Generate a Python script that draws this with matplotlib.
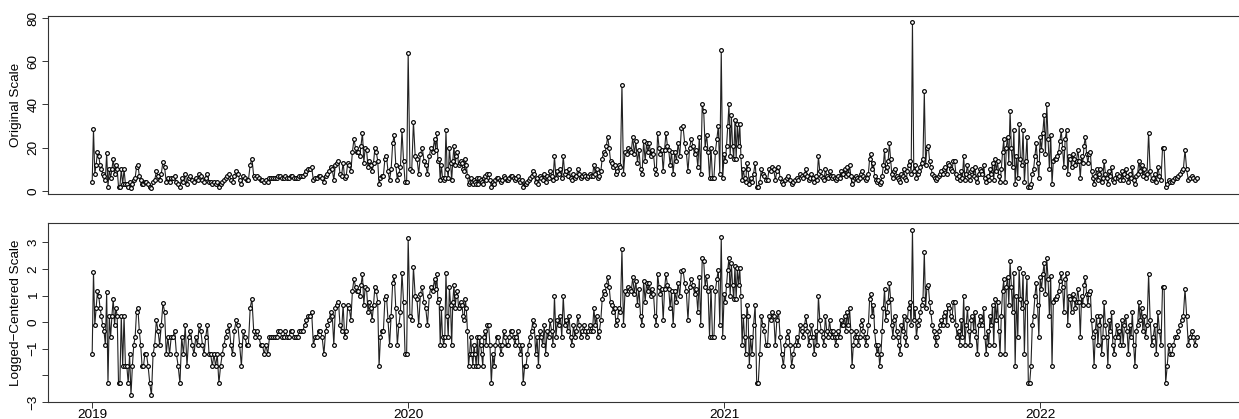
#import packages
import numpy as np
import matplotlib
matplotlib.use("Agg")
import matplotlib.pyplot as plt

#monthly readings (one list per month)
vals_2019 = [
    [4, 28.5, 8, 12, 18, 16, 12, 10, 8, 7, 5, 17.5, 2, 10, 6, 10, 15, 8, 12, 10],
    [2, 2, 10, 3, 10, 3, 3, 2, 4, 1.5, 3, 5, 6, 11, 12, 7, 5, 3, 3],
    [4, 4, 3, 2, 1.5, 4, 5, 9, 7, 5, 8, 13.5, 11, 4, 6, 4],
    [6, 6, 7, 4, 3, 2, 6, 4, 8, 3, 6, 7, 5, 4, 6],
    [5, 8, 7, 5, 4, 6, 8, 4, 4, 3, 4, 3, 4, 2, 3, 4],
    [5, 6, 7, 8, 5, 4, 7, 9, 8, 5, 3, 7, 6, 5, 5],
    [12, 15, 7, 6, 7, 6, 5, 5, 4, 5, 4, 6, 6, 6, 6],
    [6, 7, 7, 6, 6, 7, 6, 6, 7, 7, 6, 6, 6, 7, 7],
    [7, 8, 9, 10, 10, 11, 5, 6, 6, 7, 7, 6, 4, 7, 8],
    [9, 11, 10, 5, 12, 13, 14, 8, 7, 13, 6, 7, 13, 12, 9, 18, 24],
    [20, 18, 18, 16, 21, 27, 13, 20, 19, 11, 14, 12, 9, 13, 20, 18, 14, 3, 6],
    [7, 7, 15, 16, 9, 5, 10, 22, 26, 12, 5, 8, 11, 28, 14, 4, 4],
]
vals_2020 = [
    [64, 10, 9, 32, 16, 15, 8, 17, 20, 14, 12, 8, 16, 20, 18],
    [24, 19, 27, 14, 15, 5, 12, 6, 5, 6, 28, 10, 6, 20, 13, 5, 14, 21, 12, 16, 18, 12, 13],
    [14, 13, 10, 9, 15, 12, 7, 3, 4, 6, 4, 3, 5, 4, 3, 6, 3, 6, 5, 4, 3, 6, 7, 5],
    [8, 8, 5, 2, 4, 3, 5, 6, 6, 5, 4, 5, 7, 6, 5, 5, 6, 7, 7],
    [6, 5, 6, 7, 5, 4, 5, 2, 3, 3, 4, 5, 6, 7, 9, 8, 4, 6, 3],
    [7, 6, 5, 8, 4, 7, 6, 9, 7, 5, 16, 6, 9, 8, 10, 6, 16, 8],
    [9, 7, 10, 6, 5, 8, 6, 7, 10, 8, 6, 7, 8, 7, 6, 7, 8, 7],
    [7, 12, 8, 10, 6, 7, 9, 15, 18, 17, 21, 25, 20, 14, 13, 11, 12, 8, 9],
    [12, 11, 49, 8, 18, 17, 20, 19, 18, 25, 17, 23, 13, 19, 10, 8, 23],
    [14, 22, 18, 22, 16, 19, 17, 10, 8, 27, 20, 17, 19, 9, 19, 27, 21, 19, 12],
    [18, 8, 18, 14, 22, 16, 29, 30, 22, 18, 9, 20, 24, 21, 17, 19],
    [11, 25, 8, 40, 37, 20, 26, 18, 6, 20, 6, 6, 18, 24, 30, 8, 65, 6],
]
vals_2021 = [
    [17, 14, 21, 30, 40, 16, 35, 21, 15, 33, 15, 31, 21, 31, 16, 5, 10, 6, 4, 13, 10, 3],
    [6, 4, 8, 13, 2, 2, 4, 10, 8, 7, 5, 5, 10, 9, 11, 10, 5],
    [9, 11, 6, 4, 3, 5, 6, 7, 5, 3, 4, 5, 6, 5, 8, 7],
    [6, 8, 10, 7, 5, 6, 8, 6, 4, 7, 5, 16, 9, 7, 6, 5, 10, 7, 6],
    [9, 7, 6, 7, 6, 5, 6, 7, 6, 9, 8, 8, 10, 7, 11, 8, 12, 7, 3, 5, 6],
    [7, 6, 5, 6, 8, 9, 7, 6, 5, 6, 8, 15, 17, 10, 13, 7, 5, 4, 5, 3, 4],
    [7, 12, 19, 9, 11, 14, 22, 15, 8, 6, 9, 10, 7, 6, 5, 4, 8, 7, 10, 6, 5, 9],
    [12, 14, 8, 78, 9, 12, 6, 8, 9, 11, 13, 15, 46, 12, 20, 21, 14, 11, 8, 7],
    [6, 5, 6, 7, 8, 9, 8, 10, 11, 8, 13, 12, 10, 9, 14, 14, 8, 6, 7, 5],
    [9, 6, 16, 5, 8, 12, 7, 5, 9, 10, 7, 11, 6, 4, 8, 10, 9, 8, 12, 6, 4],
    [7, 5, 10, 8, 13, 5, 15, 9, 14, 7, 4, 10, 18, 24, 4, 20, 25, 13, 37, 20, 11],
    [28, 3, 16, 6, 31, 15, 12, 28, 4, 14, 25, 2, 2, 3, 8, 10, 16, 22, 13, 6],
]
vals_2022 = [
    [25, 19, 27, 35, 17, 40, 24, 10, 26, 3, 14, 15, 15, 16, 18, 23, 28, 20, 11, 24],
    [28, 8, 16, 15, 11, 17, 15, 12, 14, 19, 14, 6, 16, 13, 21, 25, 17, 13, 17, 18, 9],
    [6, 3, 7, 10, 5, 8, 10, 4, 6, 14, 8, 6, 3, 9, 7, 11, 5, 4, 6, 8, 6],
    [7, 5, 9, 5, 8, 10, 7, 4, 8, 6, 11, 5, 3, 7, 8, 14, 9, 12, 7, 10],
    [6, 8, 27, 9, 5, 6, 8, 4, 11, 7, 5, 20, 20, 2, 3, 5, 4],
    [4, 5, 6, 6, 7, 8, 9, 10, 19, 10, 5, 6, 7, 6, 5, 6],
]
years = [2019, 2020, 2021, 2022]
year_ticks = [2019, 2020, 2021, 2022]
top_ticks = [0, 20, 40, 60, 80]
low_ticks = [-3, -2, -1, 0, 1, 2, 3]
low_labels = ["\u22123", "", "\u22121", "0", "1", "2", "3"]

#build decimal-year time axis, spreading each month's readings across the month
t, y = [], []
for yr, months in zip(years, [vals_2019, vals_2020, vals_2021, vals_2022]):
    for m, mv in enumerate(months):
        n = len(mv)
        for i, v in enumerate(mv):
            t.append(yr + (m + i / n) / 12.0)
            y.append(v)
t = np.array(t)
y = np.array(y, dtype=float)

#logged and centered (standardised) version
ly = np.log(y)
z = (ly - ly.mean()) / ly.std()

plt.rcParams['font.family'] = ['Liberation Sans', 'DejaVu Sans']

def pad(lo, hi):
    r = hi - lo
    return lo - 0.04 * r, hi + 0.04 * r

xlim = pad(t.min(), t.max())
W, H = 1239, 419
left_px = 48
px_per_year = 316.0
right_px = left_px + (xlim[1] - xlim[0]) * px_per_year

fig = plt.figure(figsize=(W / 100, H / 100), dpi=100)
ax1 = fig.add_axes([left_px / W, 1 - 194.3 / H, (right_px - left_px) / W, 178.6 / H])
ax2 = fig.add_axes([left_px / W, 1 - 402 / H, (right_px - left_px) / W, 179 / H])

for ax, yy in [(ax1, y), (ax2, z)]:
    ax.plot(t, yy, color="#222222", lw=0.8, zorder=1)
    ax.plot(t, yy, "o", ms=2.7, mfc="white", mec="black", mew=0.85, zorder=2)
    ax.set_xlim(xlim)
    ax.set_ylim(pad(yy.min(), yy.max()))
    for s in ax.spines.values():
        s.set_linewidth(0.8)
        s.set_color("#333333")
    ax.tick_params(axis="y", length=4, width=0.7, labelsize=9.7, pad=2, color="#333333")

ax1.set_xticks([])
ax1.set_yticks(top_ticks)
ax1.set_yticklabels([str(v) for v in top_ticks], rotation=90, va="center")
ax1.set_ylabel("Original Scale", fontsize=9.7, labelpad=4)

ax2.set_xticks(year_ticks)
ax2.set_xticklabels([str(v) for v in year_ticks])
ax2.tick_params(axis="x", length=4, width=0.7, labelsize=9.7, pad=1, color="#333333")
ax2.set_yticks(low_ticks)
ax2.set_yticklabels(low_labels, rotation=90, va="center")
ax2.set_ylabel("Logged\u2212Centered Scale", fontsize=9.7, labelpad=4)

fig.savefig("out.png", dpi=100)
